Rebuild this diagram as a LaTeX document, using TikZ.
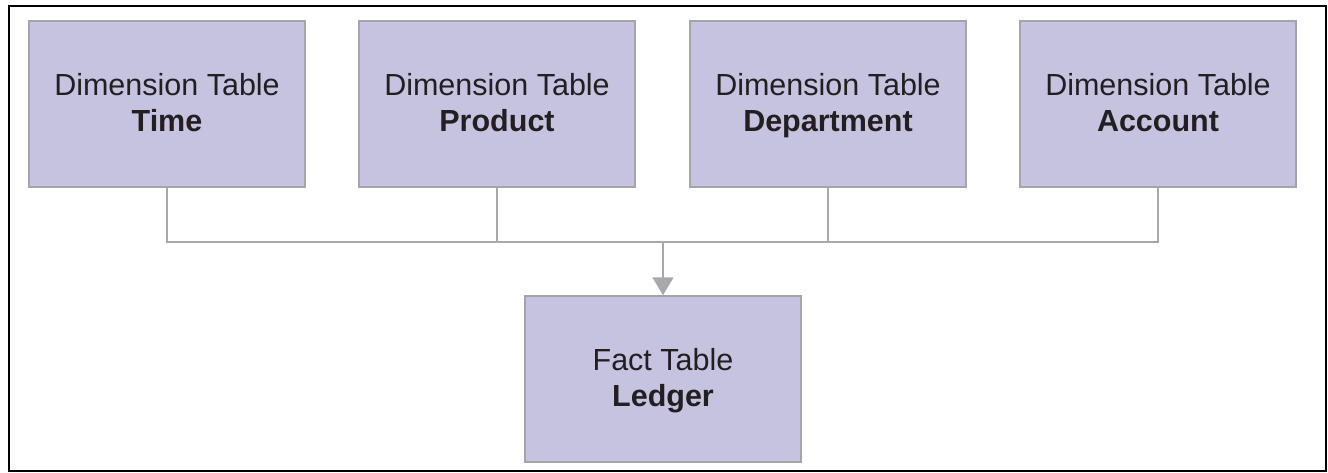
\documentclass[tikz,border=0pt]{standalone}
\usepackage{fontspec}
\setmainfont{Liberation Sans}
\usetikzlibrary{arrows.meta}
\definecolor{boxfill}{HTML}{C6C3E1}
\definecolor{boxline}{HTML}{A4A4AA}
\definecolor{connline}{HTML}{A8A8AC}
\definecolor{txt}{HTML}{231F20}
\newcommand\lnstrut{\rule[-8.6pt]{0pt}{36pt}}
\tikzset{
  tablebox/.style={draw=boxline, line width=1.5pt, fill=boxfill,
    minimum width=276pt, minimum height=166pt, inner sep=0pt,
    align=center, text=txt, font=\fontsize{30.5}{36}\selectfont},
  conn/.style={draw=connline, line width=1.8pt},
}
\begin{document}
\begin{tikzpicture}[x=1pt,y=-1pt]
\useasboundingbox (0,0) rectangle (1328,472);
\draw[line width=2.5pt, black] (9,6) rectangle (1326,471);
\node[tablebox] (time) at (167,104) {\lnstrut Dimension Table\\\lnstrut\textbf{Time}};
\node[tablebox] (prod) at (497,104) {\lnstrut Dimension Table\\\lnstrut\textbf{Product}};
\node[tablebox] (dept) at (828,104) {\lnstrut Dimension Table\\\lnstrut\textbf{Department}};
\node[tablebox] (acct) at (1158,104) {\lnstrut Dimension Table\\\lnstrut\textbf{Account}};
\node[tablebox] (fact) at (663,379) {\lnstrut Fact Table\\\lnstrut\textbf{Ledger}};
\coordinate (bus) at (167,242);
\draw[conn] (time.south) -- (bus) -- (bus -| acct.south) -- (acct.south);
\draw[conn] (prod.south) -- (prod.south |- bus);
\draw[conn] (dept.south) -- (dept.south |- bus);
\draw[conn, -{Triangle[width=21pt,length=18pt]}] (fact.north |- bus) -- (fact.north);
\end{tikzpicture}
\end{document}
